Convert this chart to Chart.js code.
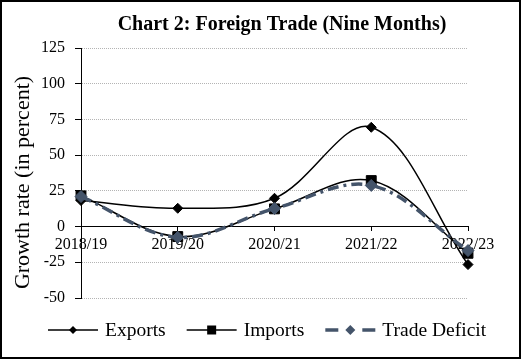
<!DOCTYPE html>
<html>
<head>
<meta charset="utf-8">
<script src="https://cdn.jsdelivr.net/npm/chart.js@4/dist/chart.umd.min.js"></script>
<style>
  html, body { margin: 0; padding: 0; background: #fff; }
  #wrap { position: relative; width: 525px; height: 362px; }
  #frame { position: absolute; left: 0; top: 0; width: 521px; height: 359px; box-sizing: border-box; border: 2px solid #000; pointer-events: none; }
  canvas { position: absolute; left: 0; top: 0; }
</style>
</head>
<body>
<div id="wrap">
  <canvas id="chart" width="525" height="362"></canvas>
  <div id="frame"></div>
</div>
<script>
// Data
const years = ["2018/19", "2019/20", "2020/21", "2021/22", "2022/23"];
const exportsGrowth = [18.2, 12.8, 19.8, 69.5, -26.6];
const importsGrowth = [21.5, -7.0, 12.4, 32.2, -18.7];
const deficitGrowth = [21.0, -7.5, 12.6, 28.8, -16.8];
const yTicks = [-50, -25, 0, 25, 50, 75, 100, 125];

const titleText = "Chart 2: Foreign Trade (Nine Months)";
const yTitle = "Growth rate (in percent)";
const serif = '"Liberation Serif", "Times New Roman", serif';
const slate = "#44546a";

function marker(ctx, style, x, y, r, color) {
  ctx.save();
  ctx.fillStyle = color;
  ctx.beginPath();
  if (style === "rect") {
    ctx.rect(x - r, y - r, 2 * r, 2 * r);
  } else {
    ctx.moveTo(x, y - r);
    ctx.lineTo(x + r, y);
    ctx.lineTo(x, y + r);
    ctx.lineTo(x - r, y);
    ctx.closePath();
  }
  ctx.fill();
  ctx.restore();
}

// title, rotated axis title and line legend
const textPlugin = {
  id: "texts",
  afterDraw(chart) {
    const ctx = chart.ctx;
    ctx.save();
    ctx.fillStyle = "#000";
    ctx.textBaseline = "alphabetic";

    ctx.font = "bold 20px " + serif;
    ctx.textAlign = "center";
    ctx.fillText(titleText, 282, 29.5);

    ctx.save();
    ctx.translate(28.5, 182.5);
    ctx.rotate(-Math.PI / 2);
    ctx.font = "22px " + serif;
    ctx.fillText(yTitle, 0, 0);
    ctx.restore();

    ctx.font = "19.5px " + serif;
    ctx.textAlign = "left";
    let x = 48;
    const y = 330;
    chart.data.datasets.forEach(ds => {
      ctx.save();
      ctx.strokeStyle = ds.borderColor;
      ctx.lineWidth = ds.borderWidth;
      ctx.setLineDash(ds.legendDash || []);
      ctx.beginPath();
      ctx.moveTo(x, y);
      ctx.lineTo(x + 50, y);
      ctx.stroke();
      ctx.restore();
      marker(ctx, ds.pointStyle === "rect" ? "rect" : "diamond", x + 25, y, ds.legendRadius, ds.backgroundColor);
      ctx.fillStyle = "#000";
      ctx.fillText(ds.label, x + 57, y + 6);
      x += 57 + ctx.measureText(ds.label).width + 21;
    });
    ctx.restore();
  }
};

const ctx = document.getElementById("chart").getContext("2d");
const chart = new Chart(ctx, {
  type: "line",
  data: {
    labels: years,
    datasets: [{
      label: "Exports",
      data: exportsGrowth,
      borderColor: "#000",
      backgroundColor: "#000",
      borderWidth: 1.5,
      pointStyle: "rectRot",
      pointRadius: 5,
      pointBorderWidth: 1,
      legendRadius: 4,
      tension: 0.35,
      order: 2
    }, {
      label: "Imports",
      data: importsGrowth,
      borderColor: "#000",
      backgroundColor: "#000",
      borderWidth: 1.5,
      pointStyle: "rect",
      pointRadius: 7,
      pointBorderWidth: 1,
      legendRadius: 4.5,
      tension: 0.35,
      order: 1
    }, {
      label: "Trade Deficit",
      data: deficitGrowth,
      borderColor: slate,
      backgroundColor: slate,
      borderWidth: 3.5,
      borderDash: [11, 5, 3, 5],
      legendDash: [13, 24, 13],
      pointStyle: "rectRot",
      pointRadius: 6,
      pointBorderWidth: 1,
      legendRadius: 5,
      tension: 0.35,
      order: 0
    }]
  },
  options: {
    responsive: false,
    animation: false,
    layout: { padding: { top: 48, right: 57, bottom: 64, left: 0 } },
    scales: {
      x: {
        position: { y: 0 },
        offset: false,
        grid: { drawOnChartArea: false, tickLength: 4, tickColor: "#000" },
        border: { color: "#000", width: 1 },
        ticks: { font: { family: serif, size: 16 }, color: "#000", padding: 5, maxRotation: 0, autoSkip: false }
      },
      y: {
        min: -50,
        max: 125,
        afterBuildTicks: s => { s.ticks = yTicks.map(v => ({ value: v })); },
        afterFit: s => { s.width = 81; },
        grid: {
          color: c => (c.tick && c.tick.value === 0) ? "rgba(0,0,0,0)" : "#b4b4b4",
          tickColor: "#000",
          tickLength: 6
        },
        border: { color: "#000", width: 1, dash: [1, 1] },
        ticks: { font: { family: serif, size: 16 }, color: "#000", padding: 10 }
      }
    },
    plugins: {
      legend: { display: false },
      title: { display: false },
      tooltip: { enabled: false }
    }
  },
  plugins: [textPlugin]
});
</script>
</body>
</html>
